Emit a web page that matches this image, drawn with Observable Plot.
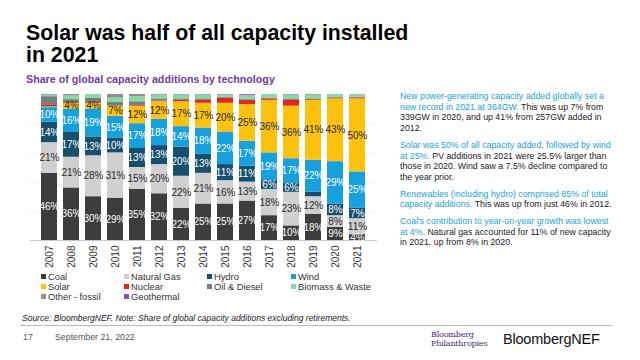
<!DOCTYPE html>
<html><head><meta charset="utf-8">
<script src="https://cdn.jsdelivr.net/npm/d3@7"></script>
<script src="https://cdn.jsdelivr.net/npm/@observablehq/plot@0.6"></script>
<style>
html,body{margin:0;padding:0;background:#fff;}
body{width:640px;height:360px;position:relative;overflow:hidden;font-family:Arial,"Liberation Sans",sans-serif;}
.abs{position:absolute;white-space:nowrap;}
#title{left:26px;top:22px;font-size:21.3px;font-weight:bold;line-height:22px;color:#000;}
#subtitle{left:26px;top:73px;font-size:10.7px;font-weight:bold;color:#6b3fa0;}
#chart{left:24px;top:88px;}
#panel{left:400px;top:91px;font-size:8.8px;line-height:10.7px;color:#222;}
#panel p{margin:0 0 6px 0;}
#panel .c{color:#1ba3d8;}
.leg{font-size:9.3px;color:#333;line-height:10px;}
.leg i{display:inline-block;width:5px;height:5px;margin-right:2px;vertical-align:1px;}
#source{left:22px;top:313px;font-size:8.5px;font-style:italic;color:#222;}
#rule{left:20px;top:325px;width:592px;height:0;border-top:1px solid #b9b9c4;}
#foot17{left:23px;top:332px;font-size:8.8px;color:#555;}
#footdate{left:55px;top:332px;font-size:8.8px;color:#555;}
#phil1{left:431px;top:330px;font-family:"DejaVu Serif","Liberation Serif",serif;font-size:8.2px;line-height:9px;color:#4b2a78;letter-spacing:-0.3px;}
#phil2{left:431px;top:339px;font-family:"DejaVu Serif","Liberation Serif",serif;font-size:8.2px;line-height:9px;color:#4b2a78;letter-spacing:-0.3px;}
#bnef{left:503px;top:331px;font-size:14.5px;color:#111;letter-spacing:-0.2px;}
</style></head>
<body>
<div id="title" class="abs">Solar was half of all capacity installed<br>in 2021</div>
<div id="subtitle" class="abs">Share of global capacity additions by technology</div>
<div id="chart" class="abs"></div>
<div id="panel" class="abs">
<p><span class="c">New power-generating capacity added globally set a<br>new record in 2021 at 364GW.</span> This was up 7% from<br>339GW in 2020, and up 41% from 257GW added in<br>2012.</p>
<p><span class="c">Solar was 50% of all capacity added, followed by wind<br>at 25%.</span> PV additions in 2021 were 25.5% larger than<br>those in 2020. Wind saw a 7.5% decline compared to<br>the year prior.</p>
<p><span class="c">Renewables (including hydro) comprised 85% of total<br>capacity additions.</span> This was up from just 46% in 2012.</p>
<p><span class="c">Coal's contribution to year-on-year growth was lowest<br>at 4%.</span> Natural gas accounted for 11% of new capacity<br>in 2021, up from 8% in 2020.</p>
</div>
<div id="legend"></div>
<div id="source" class="abs">Source: BloombergNEF. Note: Share of global capacity additions excluding retirements.</div>
<div id="rule" class="abs"></div>
<div id="foot17" class="abs">17</div>
<div id="footdate" class="abs">September 21, 2022</div>
<div id="phil1" class="abs">Bloomberg</div>
<div id="phil2" class="abs">Philanthropies</div>
<div id="bnef" class="abs">BloombergNEF</div>
<script>
const years = [2007,2008,2009,2010,2011,2012,2013,2014,2015,2016,2017,2018,2019,2020,2021];
const seriesNames = ["Coal","Natural Gas","Hydro","Wind","Solar","Nuclear","Oil & Diesel","Biomass & Waste","Other - fossil","Geothermal"];
const seriesColors = ["#3d3d3d","#d0d0d0","#17506f","#16a0dd","#fcc20d","#e5261e","#7b7b7b","#80dea0","#8f8f8f","#8a4cc4"];
const coal        = [46,36,30,29,35,32,22,25,25,27,17,10,18,9,4];
const naturalGas  = [21,21,28,31,15,20,22,21,16,13,18,23,12,8,11];
const hydro       = [14,17,13,10,13,13,20,13,11,11,6,6,3,8,7];
const wind        = [10,16,19,15,17,18,14,18,22,17,19,17,22,29,25];
const solar       = [0.5,4,4,7,12,12,17,17,20,25,36,36,41,43,50];
const nuclear     = [1,0.5,0.5,0,0.5,0.5,1,2,3.5,3,1,4,0.5,0.5,0.7];
const oilDiesel   = [6,2,3,2.5,2.5,1.5,1,1,0.5,0.5,0.5,1,0.5,0.5,0.3];
const biomass     = [1,2.5,2.5,3,3.5,2.5,2.5,2.5,1.5,2.5,2.5,2.5,2.5,2,1.7];
const otherFossil = [0.5,1,0,2.5,1.5,0.5,0.5,0.5,0.3,0.5,0,0.5,0.5,0,0.3];
const geothermal  = [0,0,0,0,0,0,0,0,0.2,0.5,0,0,0,0,0];
const labelledSeries = ["Coal","Natural Gas","Hydro","Wind","Solar"];
const whiteLabelSeries = ["Coal","Hydro","Wind"];

const seriesValues = [coal,naturalGas,hydro,wind,solar,nuclear,oilDiesel,biomass,otherFossil,geothermal];
const rows = [];
seriesNames.forEach((s,i)=>years.forEach((y,j)=>rows.push({year:String(y),series:s,value:seriesValues[i][j]})));

const labelText = (white) => d => (labelledSeries.includes(d.series) && d.value >= 4 && whiteLabelSeries.includes(d.series) === white) ? d.value + "%" : "";

const chart = Plot.plot({
  width: 360, height: 184,
  marginLeft: 6, marginRight: 7, marginTop: 6, marginBottom: 32,
  style: {fontFamily: 'Arial,"Liberation Sans",sans-serif', background: "transparent"},
  x: {domain: years.map(String), padding: 0.26, label: null, tickRotate: -90, tickSize: 0, tickPadding: 5, fontSize: 9},
  y: {domain: [0,100], axis: null},
  color: {domain: seriesNames, range: seriesColors},
  marks: [
    Plot.ruleY([20,40,60,80], {stroke: "#ececec", strokeDasharray: "2,2"}),
    Plot.barY(rows, Plot.stackY({x: "year", y: "value", z: "series", fill: "series", order: seriesNames})),
    Plot.ruleY([0], {stroke: "#c8c8c8"}),
    Plot.text(rows, Plot.stackY({x: "year", y: "value", z: "series", order: seriesNames, text: labelText(true), fill: "#ffffff", fontSize: 10})),
    Plot.text(rows, Plot.stackY({x: "year", y: "value", z: "series", order: seriesNames, text: labelText(false), fill: "#2a2a2a", fontSize: 10}))
  ]
});
chart.querySelectorAll('g[aria-label="x-axis tick label"] text').forEach(t => t.setAttribute("fill", "#333"));
document.getElementById("chart").appendChild(chart);

// legend
const legendRows = [[0,1,2,3],[4,5,6,7],[8,9]];
const colX = [41,124,207,291];
const rowY = [272,282,292];
const legend = document.getElementById("legend");
legendRows.forEach((r,ri)=>r.forEach((si,ci)=>{
  const d = document.createElement("div");
  d.className = "abs leg";
  d.style.left = colX[ci] + "px";
  d.style.top = rowY[ri] + "px";
  d.innerHTML = `<i style="background:${seriesColors[si]}"></i>${seriesNames[si]}`;
  legend.appendChild(d);
}));
</script>
</body></html>
